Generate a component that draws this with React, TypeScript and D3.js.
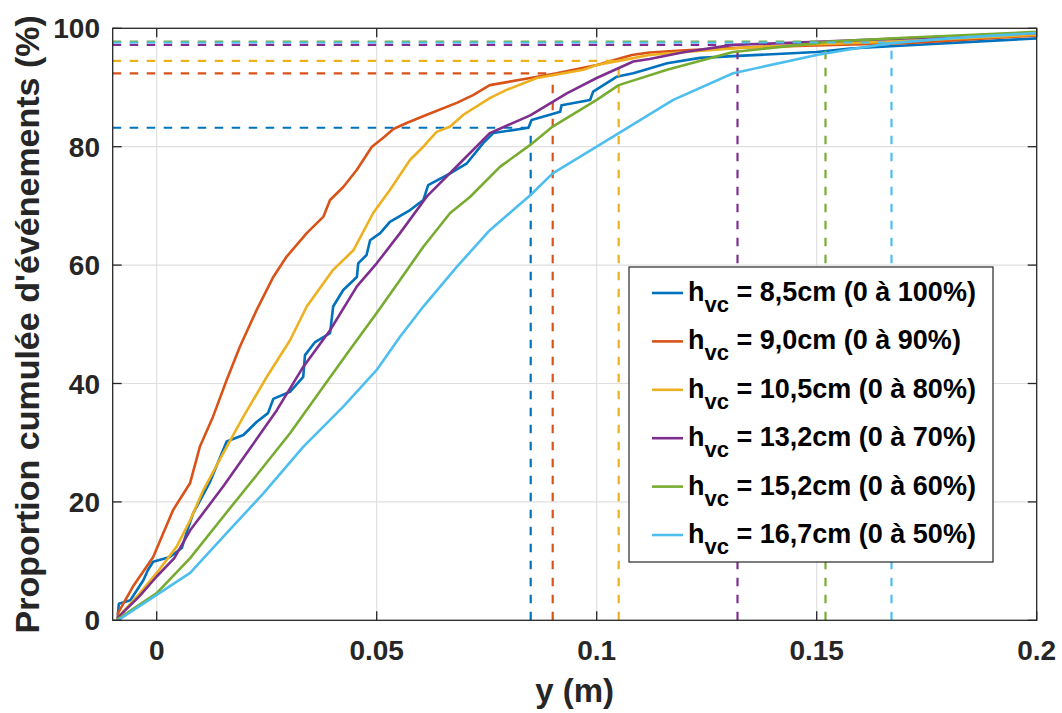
import React from 'react';
import * as d3 from 'd3';

// ---------- data ----------
const seriesNames = ['8,5cm (0 à 100%)', '9,0cm (0 à 90%)', '10,5cm (0 à 80%)', '13,2cm (0 à 70%)', '15,2cm (0 à 60%)', '16,7cm (0 à 50%)'];
const seriesColors = ['#0072BD', '#D95319', '#EDB120', '#7E2F8E', '#77AC30', '#4DBEEE'];

const cdf85: [number, number][] = [
  [-0.0088, 0], [-0.0088, 1.2], [-0.0086, 2.8], [-0.006, 3.4], [-0.003, 6.8], [-0.002, 8.5], [-0.0008, 9.9], [0.003, 10.7],
  [0.0057, 12.2], [0.007, 15.3], [0.0083, 18.1], [0.012, 23.2], [0.0159, 30.2], [0.0197, 31.3], [0.0227, 33.5], [0.0253, 35],
  [0.0265, 37.4], [0.0303, 38.6], [0.0333, 41.1], [0.0337, 44.8], [0.036, 47], [0.0394, 48.5], [0.0401, 53], [0.0424, 55.8],
  [0.0455, 58], [0.0458, 60.3], [0.0477, 61.7], [0.0485, 64.2], [0.0508, 65.4], [0.053, 67.3], [0.0576, 69.3], [0.0606, 71],
  [0.0617, 73.5], [0.0667, 75.5], [0.0705, 77.2], [0.0742, 80.6], [0.0765, 82.3], [0.0845, 83.2], [0.0852, 84.5], [0.0917, 85.9],
  [0.092, 87], [0.0985, 87.9], [0.0992, 89.3], [0.1045, 91.8], [0.1083, 92.4], [0.112, 93.2], [0.116, 94.1], [0.1235, 95],
  [0.131, 95.3], [0.15, 96], [0.1576, 96.6], [0.17, 97.1], [0.185, 97.7], [0.2, 98.3],
];
const cdf90: [number, number][] = [
  [-0.0088, 0], [-0.0088, 1.2], [-0.0054, 5.7], [-0.0008, 10.7], [0.0037, 18.6], [0.0076, 23.2], [0.0098, 29.3], [0.0128, 34.4],
  [0.0159, 40.6], [0.0189, 46.2], [0.0227, 52.4], [0.0265, 58], [0.0295, 61.4], [0.0341, 65.4], [0.0379, 68.2], [0.0394, 71],
  [0.0424, 73.2], [0.0455, 76.1], [0.0489, 80], [0.0515, 81.5], [0.0538, 83], [0.0568, 84], [0.0621, 85.6], [0.0682, 87.4],
  [0.0719, 88.7], [0.0757, 90.4], [0.0849, 91.6], [0.0909, 92.4], [0.1, 93.8], [0.108, 95.5], [0.112, 95.9], [0.12, 96.3],
  [0.135, 96.8], [0.154, 97.2], [0.17, 97.5], [0.18, 97.9], [0.2, 98.8],
];
const cdf105: [number, number][] = [
  [-0.0088, 0], [-0.0088, 0.5], [-0.0038, 4.6], [0, 8], [0.0045, 12.4], [0.0076, 16.9], [0.0106, 22], [0.0151, 28.2],
  [0.0197, 34.4], [0.025, 41.1], [0.0303, 47.3], [0.0341, 53], [0.0401, 59.2], [0.0447, 62.5], [0.0492, 68.8], [0.053, 72.7],
  [0.0576, 77.8], [0.0606, 80], [0.0636, 82.5], [0.0667, 83.4], [0.0697, 85.4], [0.0757, 88.2], [0.0795, 89.6], [0.0864, 91.6],
  [0.097, 93], [0.1, 93.8], [0.105, 94.5], [0.112, 95.5], [0.12, 96], [0.135, 96.8], [0.15, 97.3], [0.165, 97.7],
  [0.18, 98.2], [0.2, 98.9],
];
const cdf132: [number, number][] = [
  [-0.0088, 0], [-0.0088, 0.5], [-0.004, 4], [0, 7.4], [0.004, 10.5], [0.0076, 15.2], [0.0151, 22.6], [0.021, 28.8],
  [0.0273, 35.5], [0.0333, 42.8], [0.0394, 49], [0.0455, 56.4], [0.05, 60.3], [0.0553, 65.4], [0.0614, 71.6], [0.0689, 77.2],
  [0.0757, 82.3], [0.0849, 85.3], [0.0932, 89], [0.1, 91.6], [0.1083, 94.4], [0.112, 94.8], [0.12, 96], [0.131, 97.2],
  [0.15, 97.7], [0.17, 98.3], [0.2, 99.2],
];
const cdf152: [number, number][] = [
  [-0.0088, 0], [-0.0088, 0.2], [0, 4.6], [0.0076, 10.5], [0.0151, 17.5], [0.0227, 24.5], [0.0303, 31.6], [0.0379, 39.5],
  [0.0439, 45.7], [0.05, 51.9], [0.0553, 57.5], [0.0606, 63.1], [0.0667, 68.8], [0.0712, 71.5], [0.078, 76.6], [0.0849, 80.3],
  [0.09, 83.4], [0.1, 87.9], [0.105, 90.4], [0.116, 93], [0.131, 96], [0.15, 97.5], [0.152, 97.7], [0.17, 98.4], [0.2, 99.4],
];
const cdf167: [number, number][] = [
  [-0.0088, 0], [0, 4.3], [0.0076, 8], [0.0151, 14.1], [0.0242, 21.4], [0.0333, 29.3], [0.0424, 36.1], [0.05, 42.3],
  [0.0553, 47.9], [0.0606, 53], [0.0682, 59.7], [0.0757, 65.9], [0.0849, 71.8], [0.09, 75.5], [0.1, 80], [0.1174, 87.9],
  [0.131, 92.4], [0.15, 95.5], [0.158, 96.5], [0.167, 97.5], [0.18, 98.3], [0.2, 99.2],
];
const seriesData = [cdf85, cdf90, cdf105, cdf132, cdf152, cdf167];

// reference markers (h_vc in m, cumulative % reached)
const refX = [0.085, 0.09, 0.105, 0.132, 0.152, 0.167];
const refY = [83.2, 92.4, 94.5, 97.2, 97.75, 97.6];

const xTicks = [0, 0.05, 0.1, 0.15, 0.2];
const xTickLabels = ['0', '0.05', '0.1', '0.15', '0.2'];
const yTicks = [0, 20, 40, 60, 80, 100];
const yTickLabels = ['0', '20', '40', '60', '80', '100'];

// ---------- layout ----------
const W = 1062;
const H = 713;
const L = 112.7, R = 1036.7, T = 28.3, B = 620.3;
const FONT = '"Liberation Sans", Arial, Helvetica, sans-serif';
const AX = '#262626';
const GRID = '#dfdfdf';

export default function App() {
  const x = d3.scaleLinear().domain([-0.01, 0.2]).range([L, R]);
  const y = d3.scaleLinear().domain([0, 100]).range([B, T]);
  const line = d3.line<[number, number]>().x(d => x(d[0])).y(d => y(d[1]));
  const tickLen = 9;

  const legX = 629, legY = 267, legW = 364, legH = 295;
  const rowBase0 = 301, rowStep = 48.4;

  return (
    <svg width={W} height={H} style={{ position: 'absolute', left: 0, top: 0, background: '#fff' }}
      fontFamily={FONT} fontWeight="bold">
      <rect x={0} y={0} width={W} height={H} fill="#fff" />
      <defs>
        <clipPath id="clip"><rect x={L} y={T - 2} width={R - L} height={B - T + 2} /></clipPath>
      </defs>
      {/* grid */}
      {xTicks.filter(t => t < 0.2).map(t => (
        <line key={'gx' + t} x1={x(t)} x2={x(t)} y1={T} y2={B} stroke={GRID} strokeWidth={1.2} />
      ))}
      {yTicks.filter(t => t > 0 && t < 100).map(t => (
        <line key={'gy' + t} x1={L} x2={R} y1={y(t)} y2={y(t)} stroke={GRID} strokeWidth={1.2} />
      ))}
      {/* series */}
      <g clipPath="url(#clip)">
        {seriesData.map((d, i) => (
          <g key={'s' + i}>
            <path d={line(d) || ''} fill="none" stroke={seriesColors[i]} strokeWidth={2.6} strokeLinejoin="round" />
            <path d={line([[-0.01, refY[i]], [refX[i], refY[i]]]) || ''} fill="none" stroke={seriesColors[i]} strokeWidth={2.2} strokeDasharray="8.5,8.5" />
            <path d={line([[refX[i], 0], [refX[i], refY[i]]]) || ''} fill="none" stroke={seriesColors[i]} strokeWidth={2.2} strokeDasharray="8.5,8.5" />
          </g>
        ))}
      </g>
      {/* axes box */}
      <rect x={L} y={T} width={R - L} height={B - T} fill="none" stroke={AX} strokeWidth={1.3} />
      {xTicks.map(t => (
        <g key={'tx' + t}>
          <line x1={x(t)} x2={x(t)} y1={B} y2={B - tickLen} stroke={AX} strokeWidth={1.3} />
          <line x1={x(t)} x2={x(t)} y1={T} y2={T + tickLen} stroke={AX} strokeWidth={1.3} />
        </g>
      ))}
      {yTicks.map(t => (
        <g key={'ty' + t}>
          <line x1={L} x2={L + tickLen} y1={y(t)} y2={y(t)} stroke={AX} strokeWidth={1.3} />
          <line x1={R} x2={R - tickLen} y1={y(t)} y2={y(t)} stroke={AX} strokeWidth={1.3} />
        </g>
      ))}
      {/* tick labels */}
      {xTicks.map((t, i) => (
        <text key={'lx' + t} x={x(t)} y={660} textAnchor="middle" fontSize={28} fill={AX}>{xTickLabels[i]}</text>
      ))}
      {yTicks.map((t, i) => (
        <text key={'ly' + t} x={100} y={y(t) + 10} textAnchor="end" fontSize={28} fill={AX}>{yTickLabels[i]}</text>
      ))}
      {/* axis labels */}
      <text x={(L + R) / 2} y={702} textAnchor="middle" fontSize={33} fill={AX}>y (m)</text>
      <text transform={`translate(39,${(T + B) / 2}) rotate(-90)`} textAnchor="middle" fontSize={34} fill={AX}>
        Proportion cumulée d'événements (%)
      </text>
      {/* legend */}
      <rect x={legX} y={legY} width={legW} height={legH} fill="#fff" stroke={AX} strokeWidth={1.2} />
      {seriesNames.map((name, i) => {
        const by = rowBase0 + i * rowStep;
        return (
          <g key={'leg' + i}>
            <line x1={652} x2={683} y1={by - 8} y2={by - 8} stroke={seriesColors[i]} strokeWidth={2.6} />
            <text x={688} y={by} fontSize={27} fill="#000" style={{ whiteSpace: 'pre' }}>
              h<tspan dy={11} fontSize={22}>vc</tspan><tspan dy={-11} fontSize={27}>{' = ' + name}</tspan>
            </text>
          </g>
        );
      })}
    </svg>
  );
}
